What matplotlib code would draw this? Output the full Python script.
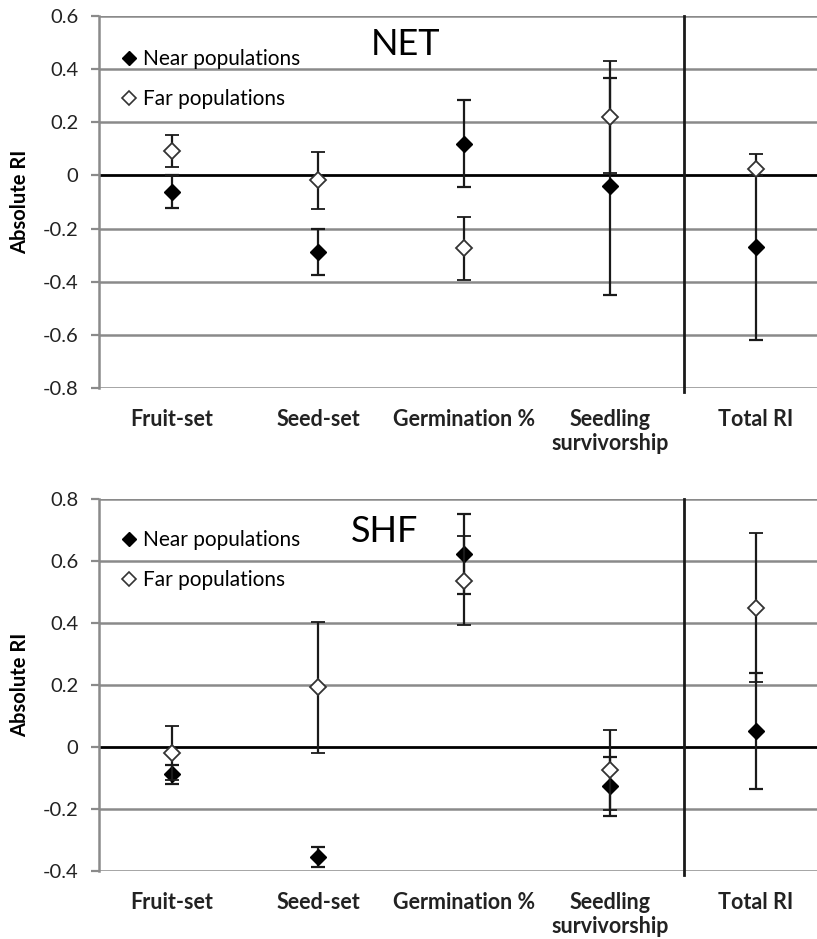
import matplotlib
matplotlib.use("Agg")
import matplotlib.pyplot as plt
from matplotlib.lines import Line2D
import numpy as np

plt.rcParams['font.family'] = ['Lato', 'DejaVu Sans']

categories = ["Fruit-set", "Seed-set", "Germination %", "Seedling\nsurvivorship", "Total RI"]

# NET panel (means, lower and upper error lengths)
net_near = [-0.062, -0.289, 0.117, -0.040, -0.269]
net_near_lo = [0.062, 0.087, 0.162, 0.410, 0.351]
net_near_hi = [0.062, 0.087, 0.165, 0.407, 0.269]
net_far = [0.092, -0.017, -0.274, 0.221, 0.026]
net_far_lo = [0.061, 0.108, 0.121, 0.212, 0.026]
net_far_hi = [0.061, 0.107, 0.119, 0.210, 0.054]

# SHF panel
shf_near = [-0.088, -0.354, 0.623, -0.126, 0.052]
shf_near_lo = [0.032, 0.032, 0.128, 0.095, 0.187]
shf_near_hi = [0.030, 0.030, 0.128, 0.095, 0.187]
shf_far = [-0.020, 0.192, 0.537, -0.074, 0.450]
shf_far_lo = [0.088, 0.212, 0.144, 0.130, 0.240]
shf_far_hi = [0.088, 0.211, 0.144, 0.130, 0.240]

net_ticks = [0.6, 0.4, 0.2, 0.0, -0.2, -0.4, -0.6, -0.8]
shf_ticks = [0.8, 0.6, 0.4, 0.2, 0.0, -0.2, -0.4]

def fmt(v):
    if abs(v) < 1e-9:
        return "0"
    return ("%.1f" % v)

fig = plt.figure(figsize=(8.17, 9.39), dpi=100)
ax1 = fig.add_axes([99/817, 1-388/939, 1-99/817, 372/939])
ax2 = fig.add_axes([99/817, 1-871/939, 1-99/817, 372/939])

def draw(ax, near, near_lo, near_hi, far, far_lo, far_hi, ticks, title, tx, ty, legy):
    x = np.arange(len(categories))
    ax.set_xlim(-0.5, 4.42)
    ax.set_ylim(min(ticks), max(ticks))
    for t in ticks:
        if abs(t) < 1e-9:
            ax.axhline(t, color='black', lw=2.0, zorder=1)
        else:
            ax.axhline(t, color='#8a8a8a', lw=1.8, zorder=1)
    ax.axvline(3.51, color='#1a1a1a', lw=2.0, zorder=1, ymin=-0.01, clip_on=False)
    ax.errorbar(x, near, yerr=[near_lo, near_hi], fmt='D', color='black', mfc='black',
                mec='black', ms=8, ecolor='#1a1a1a', elinewidth=1.6, capsize=5,
                capthick=1.6, zorder=3)
    ax.errorbar(x, far, yerr=[far_lo, far_hi], fmt='D', color='black', mfc='white',
                mec='#333333', mew=1.3, ms=8, ecolor='#1a1a1a', elinewidth=1.6, capsize=5,
                capthick=1.6, zorder=4)
    ax.set_yticks(ticks)
    ax.set_yticklabels([fmt(t) for t in ticks], fontsize=14.5, color='#222222')
    ax.tick_params(axis='y', length=6, width=1.6, color='#8a8a8a', pad=9)
    ax.set_xticks(x)
    ax.set_xticklabels(categories, fontsize=15.5, fontweight='bold', color='#222222',
                       linespacing=1.2)
    ax.tick_params(axis='x', length=0, pad=15)
    for s in ['top', 'right', 'bottom']:
        ax.spines[s].set_visible(False)
    ax.spines['left'].set_color('#8a8a8a')
    ax.spines['left'].set_linewidth(1.8)
    ax.set_ylabel("Absolute RI", fontsize=14.5, fontweight='bold')
    ax.yaxis.set_label_coords(-0.096, 0.5)
    ax.text(tx, ty, title, transform=ax.transAxes, fontsize=26, ha='center', va='center')
    handles = [Line2D([], [], marker='D', ls='none', color='black', mfc='black', ms=7),
               Line2D([], [], marker='D', ls='none', color='#333333', mfc='white', mew=1.2, ms=7)]
    ax.legend(handles, ["Near populations", "Far populations"], loc='upper left',
              bbox_to_anchor=(0.02, legy), frameon=False, fontsize=15, handlelength=0.7,
              handletextpad=0.3, labelspacing=0.95, borderaxespad=0)

draw(ax1, net_near, net_near_lo, net_near_hi, net_far, net_far_lo, net_far_hi, net_ticks,
     "NET", (406-99)/718, 1-(45-16)/372, 1-(41-16)/372)
draw(ax2, shf_near, shf_near_lo, shf_near_hi, shf_far, shf_far_lo, shf_far_hi, shf_ticks,
     "SHF", (385-99)/718, 1-(531-499)/372, 1-(522-499)/372)

fig.savefig("out.png", dpi=100)
